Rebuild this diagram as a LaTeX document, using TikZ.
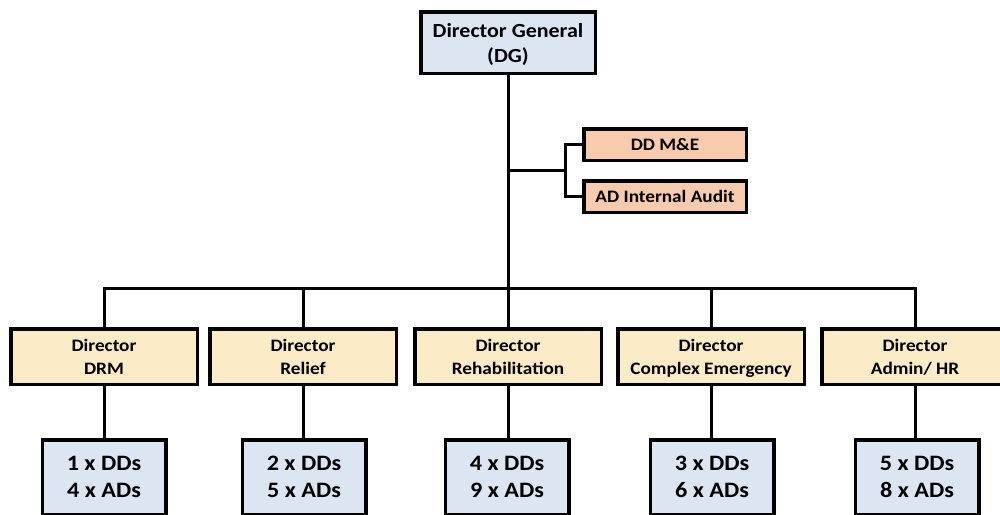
\documentclass[tikz,border=0pt]{standalone}
\usepackage{fontspec}
\setmainfont{Carlito}[FakeStretch=1.1]
\definecolor{boxblue}{RGB}{220,230,242}
\definecolor{boxsand}{RGB}{251,235,198}
\definecolor{boxpeach}{RGB}{248,203,173}
\tikzset{
  box/.style={draw=black, line width=3.5pt, align=center, inner sep=0pt,
    text depth=0pt, font=\bfseries},
  topbox/.style={box, fill=boxblue, minimum width=174.5pt, minimum height=61.5pt,
    font=\bfseries\fontsize{20}{25}\selectfont},
  sidebox/.style={box, fill=boxpeach, minimum width=162.5pt, minimum height=31.5pt,
    font=\bfseries\fontsize{17.5}{21}\selectfont},
  dirbox/.style={box, fill=boxsand, minimum width=186.5pt, minimum height=55.5pt,
    font=\bfseries\fontsize{17.5}{23}\selectfont},
  staffbox/.style={box, fill=boxblue, minimum width=123.5pt, minimum height=74.5pt,
    font=\bfseries\fontsize{22}{27}\selectfont},
  link/.style={draw=black, line width=3pt, line join=miter}
}
\begin{document}
\begin{tikzpicture}[x=1pt, y=-1pt]
\clip (0,0) rectangle (1000,514);
\fill[white] (0,0) rectangle (1000,514);

% head of the organisation
\node[topbox] (dg) at (508,42.5) {Director General\\(DG)};

% units reporting directly to the DG
\node[sidebox] (me) at (665,144.5) {DD M\&E};
\node[sidebox] (audit) at (665,196.5) {AD Internal Audit};

% directorates
\node[dirbox] (drm) at (104,356.5) {Director\\DRM};
\node[dirbox] (rel) at (303,356.5) {Director\\Relief};
\node[dirbox] (reh) at (508,356.5) {Director\\Rehabilitation};
\node[dirbox] (cem) at (711,356.5) {Director\\Complex Emergency};
\node[dirbox] (adm) at (915,356.5) {Director\\Admin/ HR};

% staffing of each directorate
\node[staffbox] (sdrm) at (104,477) {1 x DDs\\4 x ADs};
\node[staffbox] (srel) at (304,477) {2 x DDs\\5 x ADs};
\node[staffbox] (sreh) at (507,477) {4 x DDs\\9 x ADs};
\node[staffbox] (scem) at (712,477) {3 x DDs\\6 x ADs};
\node[staffbox] (sadm) at (917,477) {5 x DDs\\8 x ADs};

% connectors
\coordinate (bus) at (508,288);
\coordinate (br) at (565,170.5);
\path[link] (dg.south) -- (reh.north);
\path[link] (br -| dg.south) -- (br);
\path[link] (me.west) -| (br) |- (audit.west);
\path[link] (drm.north) |- (bus) -| (adm.north);
\path[link] (rel.north) -- (rel.north |- bus);
\path[link] (cem.north) -- (cem.north |- bus);
\path[link] (drm.south) -- (drm.south |- sdrm.north);
\path[link] (rel.south) -- (rel.south |- srel.north);
\path[link] (reh.south) -- (reh.south |- sreh.north);
\path[link] (cem.south) -- (cem.south |- scem.north);
\path[link] (adm.south) -- (adm.south |- sadm.north);
\end{tikzpicture}
\end{document}
